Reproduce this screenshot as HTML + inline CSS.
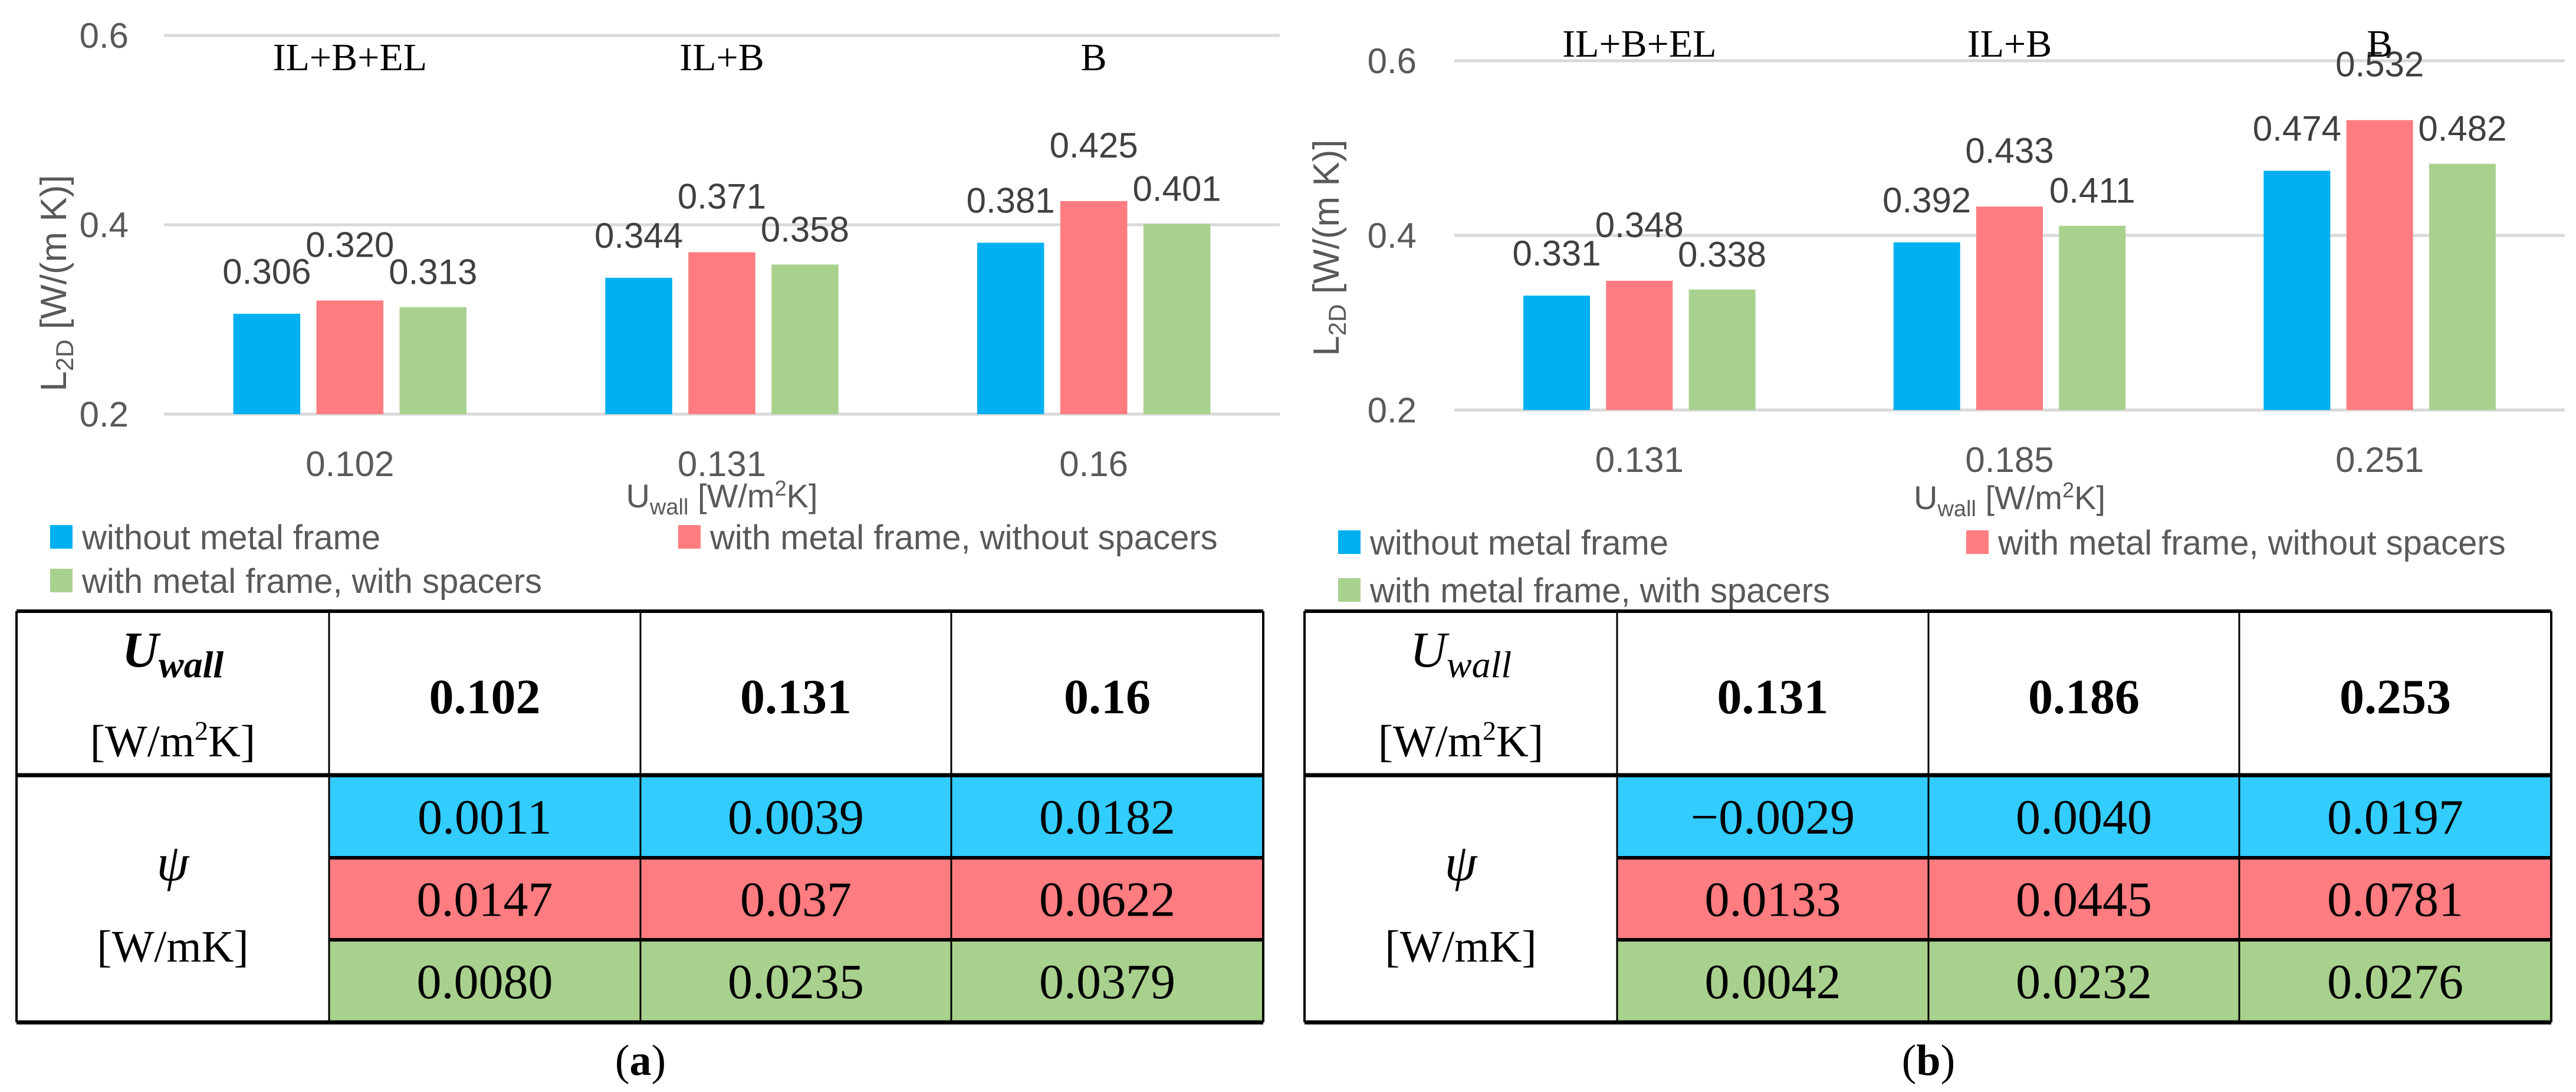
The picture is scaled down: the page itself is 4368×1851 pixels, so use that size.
<!DOCTYPE html>
<html><head><meta charset="utf-8">
<style>
html,body{margin:0;padding:0;background:#fff;}
svg{display:block;}
</style></head>
<body>
<svg id="fig" xmlns="http://www.w3.org/2000/svg" width="4368" height="1851" viewBox="0 0 4368 1851"></svg>
<script>
// ---- Panel (a) data ----
const catsA = ['0.102','0.131','0.16'];
const groupsA = ['IL+B+EL','IL+B','B'];
const blueA = [0.306,0.344,0.381];
const pinkA = [0.320,0.371,0.425];
const greenA = [0.313,0.358,0.401];
const tblHeadA = ['0.102','0.131','0.16'];
const psiBlueA = ['0.0011','0.0039','0.0182'];
const psiPinkA = ['0.0147','0.037','0.0622'];
const psiGreenA = ['0.0080','0.0235','0.0379'];
// ---- Panel (b) data ----
const catsB = ['0.131','0.185','0.251'];
const groupsB = ['IL+B+EL','IL+B','B'];
const blueB = [0.331,0.392,0.474];
const pinkB = [0.348,0.433,0.532];
const greenB = [0.338,0.411,0.482];
const tblHeadB = ['0.131','0.186','0.253'];
const psiBlueB = ['\u22120.0029','0.0040','0.0197'];
const psiPinkB = ['0.0133','0.0445','0.0781'];
const psiGreenB = ['0.0042','0.0232','0.0276'];
const yTicks = [0.2,0.4,0.6];
const legendLabels = ['without metal frame','with metal frame, without spacers','with metal frame, with spacers'];

const NS='http://www.w3.org/2000/svg';
const svg=document.getElementById('fig');
function mk(tag,attrs,parent,text){
  const e=document.createElementNS(NS,tag);
  for(const k in attrs) e.setAttribute(k,attrs[k]);
  if(text!==undefined) e.textContent=text;
  (parent||svg).appendChild(e);
  return e;
}
const CF='"Liberation Sans", sans-serif';
const TF='"Liberation Serif", serif';
const COLS=['#00B0F0','#FF7C80','#A9D18E'];
const TCOLS=['#33CCFF','#FF7C80','#A9D18E'];

function panel(o){
  const g=mk('g',{});
  
  
  const y=v=>o.y02+(v-0.2)/(0.6-0.2)*(o.y06-o.y02);
  const cw=(o.x1-o.x0)/3;
  const xc=i=>o.x0+cw*(i+0.5);
  yTicks.forEach(t=>{
    const l=mk('line',{x1:o.x0,x2:o.x1,y1:y(t),y2:y(t),stroke:'#D9D9D9','stroke-width':5},g);
    
    
    const tx=mk('text',{x:o.tickX,y:y(t)+21,'text-anchor':'end','font-family':CF,'font-size':60,fill:'#595959'},g,t.toFixed(1));
    
    
  });
  const yt=mk('text',{transform:`translate(${o.ytX},${o.ytY}) rotate(-90)`,'text-anchor':'middle','font-family':CF,'font-size':62,fill:'#595959'},g);
  
  
  mk('tspan',{},yt,'L');
  mk('tspan',{'font-size':42,dy:12},yt,'2D');
  mk('tspan',{dy:-12},yt,' [W/(m K)]');
  const series=[o.blue,o.pink,o.green];
  const bw=cw*0.18, pitch=cw*0.2235;
  const lblOff=[72,95,60];
  for(let i=0;i<3;i++){
    series.forEach((s,k)=>{
      const cx=xc(i)+(k-1)*pitch;
      const r=mk('rect',{x:cx-bw/2,y:y(s[i]),width:bw,height:y(0.2)-y(s[i]),fill:COLS[k]},g);
      
      
      const t=mk('text',{x:cx,y:y(s[i])-lblOff[k]+21,'text-anchor':'middle','font-family':CF,'font-size':60,fill:'#404040'},g,s[i].toFixed(3));
      
      
    });
    const c=mk('text',{x:xc(i),y:o.catY+21,'text-anchor':'middle','font-family':CF,'font-size':60,fill:'#595959'},g,o.cats[i]);
    
    
    const gl=mk('text',{x:xc(i),y:o.grpY+22,'text-anchor':'middle','font-family':TF,'font-size':66,fill:'#000'},g,o.groups[i]);
    
    
  }
  const xt=mk('text',{x:xc(1),y:o.xtY+18,'text-anchor':'middle','font-family':CF,'font-size':56,fill:'#595959'},g);
  
  
  mk('tspan',{},xt,'U');
  mk('tspan',{'font-size':38,dy:12},xt,'wall');
  mk('tspan',{dy:-12},xt,' [W/m');
  mk('tspan',{'font-size':36,dy:-20},xt,'2');
  mk('tspan',{dy:20},xt,'K]');
  const lp=[[o.px+85,o.leg1],[o.px+1150,o.leg1],[o.px+85,o.leg2]];
  lp.forEach((p,k)=>{
    const sw=mk('rect',{x:p[0],y:p[1]-20,width:38,height:40,fill:COLS[k]},g);
    
    
    const lt=mk('text',{x:p[0]+54,y:p[1]+21,'font-family':CF,'font-size':58,fill:'#595959'},g,legendLabels[k]);
    
    
  });
  const X=[o.px+28,o.px+558,o.px+1086,o.px+1613,o.px+2142];
  const Y=[1036,1314,1454,1593,1733];
  const psi=[o.pb,o.pp,o.pg];
  for(let r=0;r<3;r++)for(let c=0;c<3;c++){
    const cell=mk('rect',{x:X[c+1],y:Y[r+1],width:X[c+2]-X[c+1],height:Y[r+2]-Y[r+1],fill:TCOLS[r]},g);
    
    
    const t=mk('text',{x:(X[c+1]+X[c+2])/2,y:(Y[r+1]+Y[r+2])/2+29,'text-anchor':'middle','font-family':TF,'font-size':84,fill:'#000'},g,psi[r][c]);
    
    
  }
  for(let c=0;c<3;c++){
    const t=mk('text',{x:(X[c+1]+X[c+2])/2,y:1180+29,'text-anchor':'middle','font-family':TF,'font-size':84,'font-weight':'bold',fill:'#000'},g,o.head[c]);
    
    
  }
  const L=(x1,y1,x2,y2,w)=>mk('line',{x1,y1,x2,y2,stroke:'#000','stroke-width':w},g);
  L(X[0],Y[0],X[4],Y[0],6);L(X[0],Y[1],X[4],Y[1],7);L(X[1],Y[2],X[4],Y[2],6);L(X[1],Y[3],X[4],Y[3],6);L(X[0],Y[4],X[4],Y[4],7);
  L(X[0],Y[0],X[0],Y[4],4);L(X[4],Y[0],X[4],Y[4],4);
  [1,2,3].forEach(i=>L(X[i],Y[0],X[i],Y[4],3));
  const cx0=(X[0]+X[1])/2;
  const u=mk('text',{x:cx0,y:1130,'text-anchor':'middle','font-family':TF,'font-size':86,'font-style':'italic','font-weight':o.tag==='a'?'bold':'normal',fill:'#000'},g);
  
  
  mk('tspan',{},u,'U');
  mk('tspan',{'font-size':64,dy:18},u,'wall');
  const un=mk('text',{x:cx0,y:1282,'text-anchor':'middle','font-family':TF,'font-size':76,fill:'#000'},g);
  
  
  mk('tspan',{},un,'[W/m');
  mk('tspan',{'font-size':46,dy:-28},un,'2');
  mk('tspan',{dy:28},un,'K]');
  const ps=mk('text',{x:cx0,y:1492,'text-anchor':'middle','font-family':TF,'font-size':88,'font-style':'italic',fill:'#000'},g,'\u03C8');
  
  
  const pu=mk('text',{x:cx0,y:1630,'text-anchor':'middle','font-family':TF,'font-size':76,fill:'#000'},g,'[W/mK]');
  
  
  const cap=mk('text',{x:o.px+1086,y:1822,'text-anchor':'middle','font-family':TF,'font-size':74,fill:'#000'},g);
  
  
  mk('tspan',{},cap,'(');
  mk('tspan',{'font-weight':'bold'},cap,o.tag);
  mk('tspan',{},cap,')');
}
panel({tag:'a',px:0,x0:278,x1:2170,y02:702,y06:60,tickX:218,ytX:112,ytY:480,catY:786,grpY:97,xtY:842,leg1:910,leg2:984,
  cats:catsA,groups:groupsA,blue:blueA,pink:pinkA,green:greenA,head:tblHeadA,pb:psiBlueA,pp:psiPinkA,pg:psiGreenA});
panel({tag:'b',px:2184,x0:2466,x1:4349,y02:695,y06:103,tickX:2402,ytX:2270,ytY:420,catY:779,grpY:74,xtY:845,leg1:919,leg2:1000,
  cats:catsB,groups:groupsB,blue:blueB,pink:pinkB,green:greenB,head:tblHeadB,pb:psiBlueB,pp:psiPinkB,pg:psiGreenB});
</script>
</body></html>
